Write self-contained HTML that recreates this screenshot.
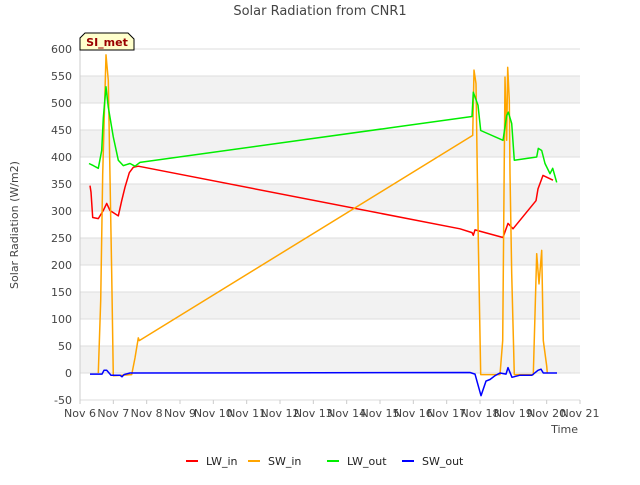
<!DOCTYPE html>
<html><head><meta charset="utf-8"><style>
body{margin:0;background:#fff;font-family:"Liberation Sans","DejaVu Sans",sans-serif;}
svg text{font-family:"DejaVu Sans","Liberation Sans",sans-serif;}
</style></head><body>
<svg id="chart" width="640" height="480">
<text x="320" y="15" text-anchor="middle" font-size="13" fill="#444">Solar Radiation from CNR1</text>
<g id="bands"></g><g id="grid"></g><g id="series"></g><g id="axes"></g>
<text x="18" y="225" transform="rotate(-90 18 225)" text-anchor="middle" font-size="11" fill="#444">Solar Radiation (W/m2)</text>
<text x="578" y="433" text-anchor="end" font-size="11" fill="#444">Time</text>
<g>
<path d="M80,50 L80,38 L85,33 L128,33 L134,39 L134,50 Z" fill="#ffffcc" stroke="#000" stroke-width="1"/>
<text x="107" y="46" text-anchor="middle" font-size="11" font-weight="bold" fill="#990000">SI_met</text>
</g>
<g id="legend"></g>
</svg>
<script>
const yTicks=[-50,0,50,100,150,200,250,300,350,400,450,500,550,600];
const xTickLabels=["Nov 6","Nov 7","Nov 8","Nov 9","Nov 10","Nov 11","Nov 12","Nov 13","Nov 14","Nov 15","Nov 16","Nov 17","Nov 18","Nov 19","Nov 20","Nov 21"];
const seriesNames=["LW_in","SW_in","LW_out","SW_out"];
const seriesColors=["#ff0000","#ffa500","#00ee00","#0000ff"];
const lwIn=[[0.30,347],[0.33,335],[0.38,288],[0.55,286],[0.70,301],[0.80,314],[0.90,301],[1.15,291],[1.25,319],[1.35,344],[1.48,371],[1.60,381],[1.75,383],[11.4,267],[11.76,260],[11.8,255],[11.85,265],[12.69,251],[12.84,277],[12.99,267],[13.68,319],[13.74,341],[13.89,366],[14.19,357]];
const swIn=[[0.55,0],[0.62,134],[0.68,369],[0.78,589],[0.85,542],[0.95,184],[1.0,-5],[1.55,-3],[1.65,28],[1.75,65],[1.78,60],[11.78,440],[11.82,561],[11.88,536],[11.95,245],[12.02,-3],[12.6,-3],[12.68,60],[12.75,548],[12.8,431],[12.83,566],[12.88,505],[12.9,369],[12.95,184],[13.03,-3],[13.6,-3],[13.7,221],[13.77,165],[13.85,227],[13.9,60],[14.0,13],[14.02,0]];
const lwOut=[[0.27,388],[0.40,384],[0.55,379],[0.65,412],[0.70,472],[0.78,530],[0.85,492],[1.0,437],[1.15,394],[1.3,384],[1.5,388],[1.65,383],[1.8,390],[11.76,475],[11.8,520],[11.94,496],[12.02,449],[12.69,431],[12.8,477],[12.85,483],[12.95,462],[13.03,394],[13.7,400],[13.75,416],[13.85,412],[13.95,388],[14.1,369],[14.18,379],[14.3,353]];
const swOut=[[0.3,-2],[0.66,-2],[0.72,5],[0.8,5],[0.93,-4],[1.2,-4],[1.26,-7],[1.32,-3],[1.5,0],[11.7,1],[11.85,-2],[12.03,-42],[12.18,-15],[12.3,-12],[12.45,-5],[12.6,0],[12.78,-2],[12.84,10],[12.96,-8],[13.2,-4],[13.56,-4],[13.74,5],[13.83,7],[13.9,0],[14.31,0]];
const allSeries=[lwIn,swIn,lwOut,swOut];
const NS="http://www.w3.org/2000/svg";
const L=80,R=580,T=49,B=400;
const xs=d=>L+d*(R-L)/15;
const ys=v=>B-(v+50)*(B-T)/650;
function mk(tag,attrs,parent){const e=document.createElementNS(NS,tag);for(const k in attrs)e.setAttribute(k,attrs[k]);parent.appendChild(e);return e;}
const bands=document.getElementById('bands'),grid=document.getElementById('grid'),axes=document.getElementById('axes'),ser=document.getElementById('series'),leg=document.getElementById('legend');
mk('rect',{x:L,y:T,width:R-L,height:B-T,fill:'#fff'},bands);
for(let i=0;i<yTicks.length-1;i++){if(i%2===1){const b=mk('rect',{x:L,y:ys(yTicks[i+1]),width:R-L,height:ys(yTicks[i])-ys(yTicks[i+1]),fill:'#f2f2f2'},bands);

}}
yTicks.forEach(v=>{const l=mk('line',{x1:L,x2:R,y1:ys(v),y2:ys(v),stroke:'#dddddd','stroke-width':1},grid);


const t=mk('text',{x:L-8,y:ys(v)+4,'text-anchor':'end','font-size':11,fill:'#444'},axes);t.textContent=v;

});
xTickLabels.forEach((s,i)=>{const t=mk('text',{x:xs(i),y:B+17,'text-anchor':'middle','font-size':11,fill:'#444'},axes);t.textContent=s;


mk('line',{x1:xs(i),x2:xs(i),y1:B,y2:B+4,stroke:'#ccc'},axes);});
mk('line',{x1:L,x2:L,y1:T,y2:B,stroke:'#ccc'},axes);
allSeries.forEach((d,i)=>{const p=mk('polyline',{points:d.map(q=>xs(q[0]).toFixed(1)+','+ys(q[1]).toFixed(1)).join(' '),fill:'none',stroke:seriesColors[i],'stroke-width':1.5,'stroke-linejoin':'round'},ser);

});
const lx=[186,248,327,402];
seriesNames.forEach((n,i)=>{const g=mk('g',{},leg);


mk('line',{x1:lx[i],x2:lx[i]+12,y1:461,y2:461,stroke:seriesColors[i],'stroke-width':2},g);
const t=mk('text',{x:lx[i]+20,y:465,'font-size':11,fill:'#222'},g);t.textContent=n;});
</script>
</body></html>
